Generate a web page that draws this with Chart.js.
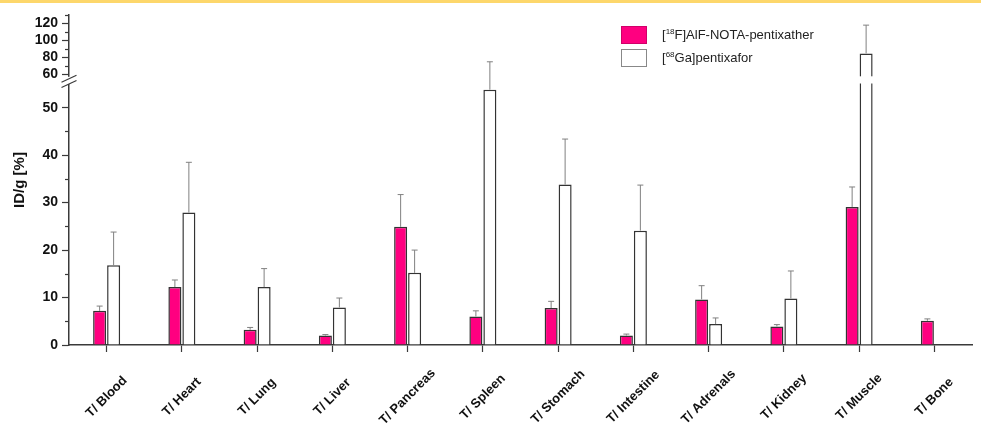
<!DOCTYPE html>
<html>
<head>
<meta charset="utf-8">
<script src="https://cdn.jsdelivr.net/npm/chart.js@4.4.1/dist/chart.umd.min.js"></script>
<style>
  html, body { margin: 0; padding: 0; background: #fff; }
  .topStrip { position: absolute; left: 0; top: 0; width: 981px; height: 3px; background: #fdd76b; z-index: 2; }
  .chartBox { position: relative; width: 981px; height: 436px; }
  .legend { position: absolute; left: 621px; top: 23px; font-family: 'Liberation Sans', Arial, sans-serif; font-size: 13px; color: #222; }
  .legend .row { display: flex; align-items: center; height: 23px; }
  .legend .swatch { width: 26px; height: 18px; box-sizing: border-box; margin-right: 15px; }
  .legend sup { font-size: 8px; line-height: 0; }
</style>
</head>
<body>
<div class="chartBox">
  <div class="topStrip"></div>
  <canvas id="chart"></canvas>
  <div class="legend">
    <div class="row"><span class="swatch" style="background:#ff0080;border:1px solid #d0006a"></span><span>[<sup>18</sup>F]AlF-NOTA-pentixather</span></div>
    <div class="row"><span class="swatch" style="background:#fff;border:1px solid #888"></span><span>[<sup>68</sup>Ga]pentixafor</span></div>
  </div>
</div>
<script>
// data
const CATEGORIES = ['T/ Blood', 'T/ Heart', 'T/ Lung', 'T/ Liver', 'T/ Pancreas', 'T/ Spleen',
  'T/ Stomach', 'T/ Intestine', 'T/ Adrenals', 'T/ Kidney', 'T/ Muscle', 'T/ Bone'];
const PENTIXATHER = [7.2, 12.2, 3.2, 2.0, 24.9, 6.0, 7.8, 2.0, 9.6, 3.9, 29.1, 5.1];
const PENTIXATHER_SD = [1.0, 1.5, 0.5, 0.2, 6.8, 1.2, 1.4, 0.3, 2.9, 0.4, 4.2, 0.4];
const PENTIXAFOR = [16.8, 27.9, 12.2, 7.9, 15.2, 53.8, 33.8, 24.1, 4.4, 9.8, 84.5, null];
const PENTIXAFOR_SD = [7.0, 10.6, 3.9, 2.0, 4.8, 20.8, 9.6, 9.6, 1.3, 5.8, 33.5, null];
const Y_TICKS = [0, 10, 20, 30, 40, 50, 60, 80, 100, 120];
const Y_MINOR_TICKS = [5, 15, 25, 35, 45, 70, 90, 110, 130];

// broken axis: 0..55 below the break, 58..130 above it
const BREAK_LOW = 55;
const BREAK_HIGH = 58;
const Y_MAX = 130;
const LOW_SHARE = 261 / 330;
const HIGH_SHARE = 60.8 / 330;

class BrokenScale extends Chart.LinearScale {
  buildTicks() {
    return Y_TICKS.map(v => ({ value: v }));
  }
  getPixelForValue(value) {
    const h = this.bottom - this.top;
    const lowH = h * LOW_SHARE, highH = h * HIGH_SHARE;
    if (value <= BREAK_LOW) return this.bottom - value / BREAK_LOW * lowH;
    if (value >= BREAK_HIGH) return this.top + highH - (value - BREAK_HIGH) / (Y_MAX - BREAK_HIGH) * highH;
    const gapTop = this.top + highH, gapBot = this.bottom - lowH;
    return gapBot - (value - BREAK_LOW) / (BREAK_HIGH - BREAK_LOW) * (gapBot - gapTop);
  }
  getValueForPixel(pixel) {
    const h = this.bottom - this.top;
    const lowH = h * LOW_SHARE, highH = h * HIGH_SHARE;
    const gapTop = this.top + highH, gapBot = this.bottom - lowH;
    if (pixel >= gapBot) return (this.bottom - pixel) / lowH * BREAK_LOW;
    if (pixel <= gapTop) return BREAK_HIGH + (gapTop - pixel) / highH * (Y_MAX - BREAK_HIGH);
    return BREAK_LOW + (gapBot - pixel) / (gapBot - gapTop) * (BREAK_HIGH - BREAK_LOW);
  }
}
BrokenScale.id = 'broken';
BrokenScale.defaults = Chart.LinearScale.defaults;
Chart.register(BrokenScale);

const AXIS_COLOR = '#3a3a3a';
const FONT = "'Liberation Sans', Arial, sans-serif";

const extrasPlugin = {
  id: 'extras',
  afterDatasetsDraw(chart) {
    const { ctx, scales: { y } } = chart;
    const gapTop = y.getPixelForValue(BREAK_HIGH);
    const gapBot = y.getPixelForValue(BREAK_LOW);
    ctx.save();
    chart.data.datasets.forEach((ds, i) => {
      const meta = chart.getDatasetMeta(i);
      meta.data.forEach((bar, j) => {
        const v = ds.data[j];
        if (v == null) return;
        // cut tall bars at the break
        if (v > BREAK_LOW) {
          ctx.fillStyle = '#fff';
          ctx.fillRect(bar.x - bar.width / 2 - 2, gapTop + 0.5, bar.width + 4, gapBot - gapTop - 1);
        }
        const e = ds.errors[j];
        if (e == null) return;
        const top = y.getPixelForValue(v + e);
        ctx.strokeStyle = '#808080';
        ctx.lineWidth = 1;
        ctx.beginPath();
        ctx.moveTo(bar.x, bar.y);
        ctx.lineTo(bar.x, top);
        ctx.moveTo(bar.x - 3, top);
        ctx.lineTo(bar.x + 3, top);
        ctx.stroke();
      });
    });
    ctx.restore();
  },
  afterDraw(chart) {
    const { ctx, scales: { x, y } } = chart;
    const axisX = chart.chartArea.left;
    ctx.save();
    // minor ticks
    ctx.strokeStyle = AXIS_COLOR;
    ctx.lineWidth = 1.2;
    Y_MINOR_TICKS.forEach(v => {
      const py = Math.round(y.getPixelForValue(v)) + 0.5;
      ctx.beginPath();
      ctx.moveTo(axisX - 4, py);
      ctx.lineTo(axisX, py);
      ctx.stroke();
    });
    // axis break
    const gapTop = y.getPixelForValue(BREAK_HIGH);
    const gapBot = y.getPixelForValue(BREAK_LOW);
    ctx.fillStyle = '#fff';
    ctx.fillRect(axisX - 3, gapTop + 1, 6, gapBot - gapTop - 1);
    [gapTop + 3, gapBot].forEach(cy => {
      ctx.beginPath();
      ctx.moveTo(axisX - 7.5, cy + 3.5);
      ctx.lineTo(axisX + 7.5, cy - 3.5);
      ctx.stroke();
    });
    // rotated category labels
    ctx.fillStyle = '#111';
    ctx.font = 'bold 13px ' + FONT;
    ctx.textAlign = 'center';
    ctx.textBaseline = 'middle';
    CATEGORIES.forEach((label, i) => {
      const px = x.getPixelForValue(i);
      ctx.save();
      ctx.translate(px, 397);
      ctx.rotate(-Math.PI / 4);
      ctx.fillText(label, 0, 0);
      ctx.restore();
    });
    ctx.restore();
  }
};

const ctx = document.getElementById('chart').getContext('2d');
new Chart(ctx, {
  type: 'bar',
  data: {
    labels: CATEGORIES,
    datasets: [
      {
        label: '[18F]AlF-NOTA-pentixather',
        data: PENTIXATHER,
        errors: PENTIXATHER_SD,
        backgroundColor: '#ff0080',
        borderColor: '#333',
        borderWidth: 1.5,
        categoryPercentage: 0.372,
        barPercentage: 0.93
      },
      {
        label: '[68Ga]pentixafor',
        data: PENTIXAFOR,
        errors: PENTIXAFOR_SD,
        backgroundColor: '#fff',
        borderColor: '#333',
        borderWidth: 1.5,
        categoryPercentage: 0.372,
        barPercentage: 0.93
      }
    ]
  },
  options: {
    responsive: true,
    maintainAspectRatio: false,
    animation: false,
    layout: { padding: { left: 0, right: 9, top: 15, bottom: 0 } },
    plugins: {
      legend: { display: false },
      tooltip: { enabled: false }
    },
    scales: {
      x: {
        type: 'category',
        offset: true,
        grid: { offset: false, drawOnChartArea: false, tickLength: 7, tickColor: AXIS_COLOR, tickWidth: 1.2 },
        border: { color: AXIS_COLOR, width: 1.5 },
        ticks: { display: false },
        afterFit(scale) { scale.height = 91; }
      },
      y: {
        type: 'broken',
        min: 0,
        max: Y_MAX,
        grid: { drawOnChartArea: false, tickLength: 7, tickColor: AXIS_COLOR, tickWidth: 1.2 },
        border: { color: AXIS_COLOR, width: 1.5 },
        ticks: {
          autoSkip: false,
          padding: 4,
          color: '#111',
          font: { family: FONT, size: 14, weight: 'bold' },
          callback: v => String(v)
        },
        title: {
          display: true,
          text: 'ID/g [%]',
          color: '#111',
          font: { family: FONT, size: 15, weight: 'bold' },
          padding: { top: 11, bottom: 0 }
        },
        afterFit(scale) { scale.width = 69; }
      }
    }
  },
  plugins: [extrasPlugin]
});

window.addEventListener('resize', () => {});
</script>
</body>
</html>
